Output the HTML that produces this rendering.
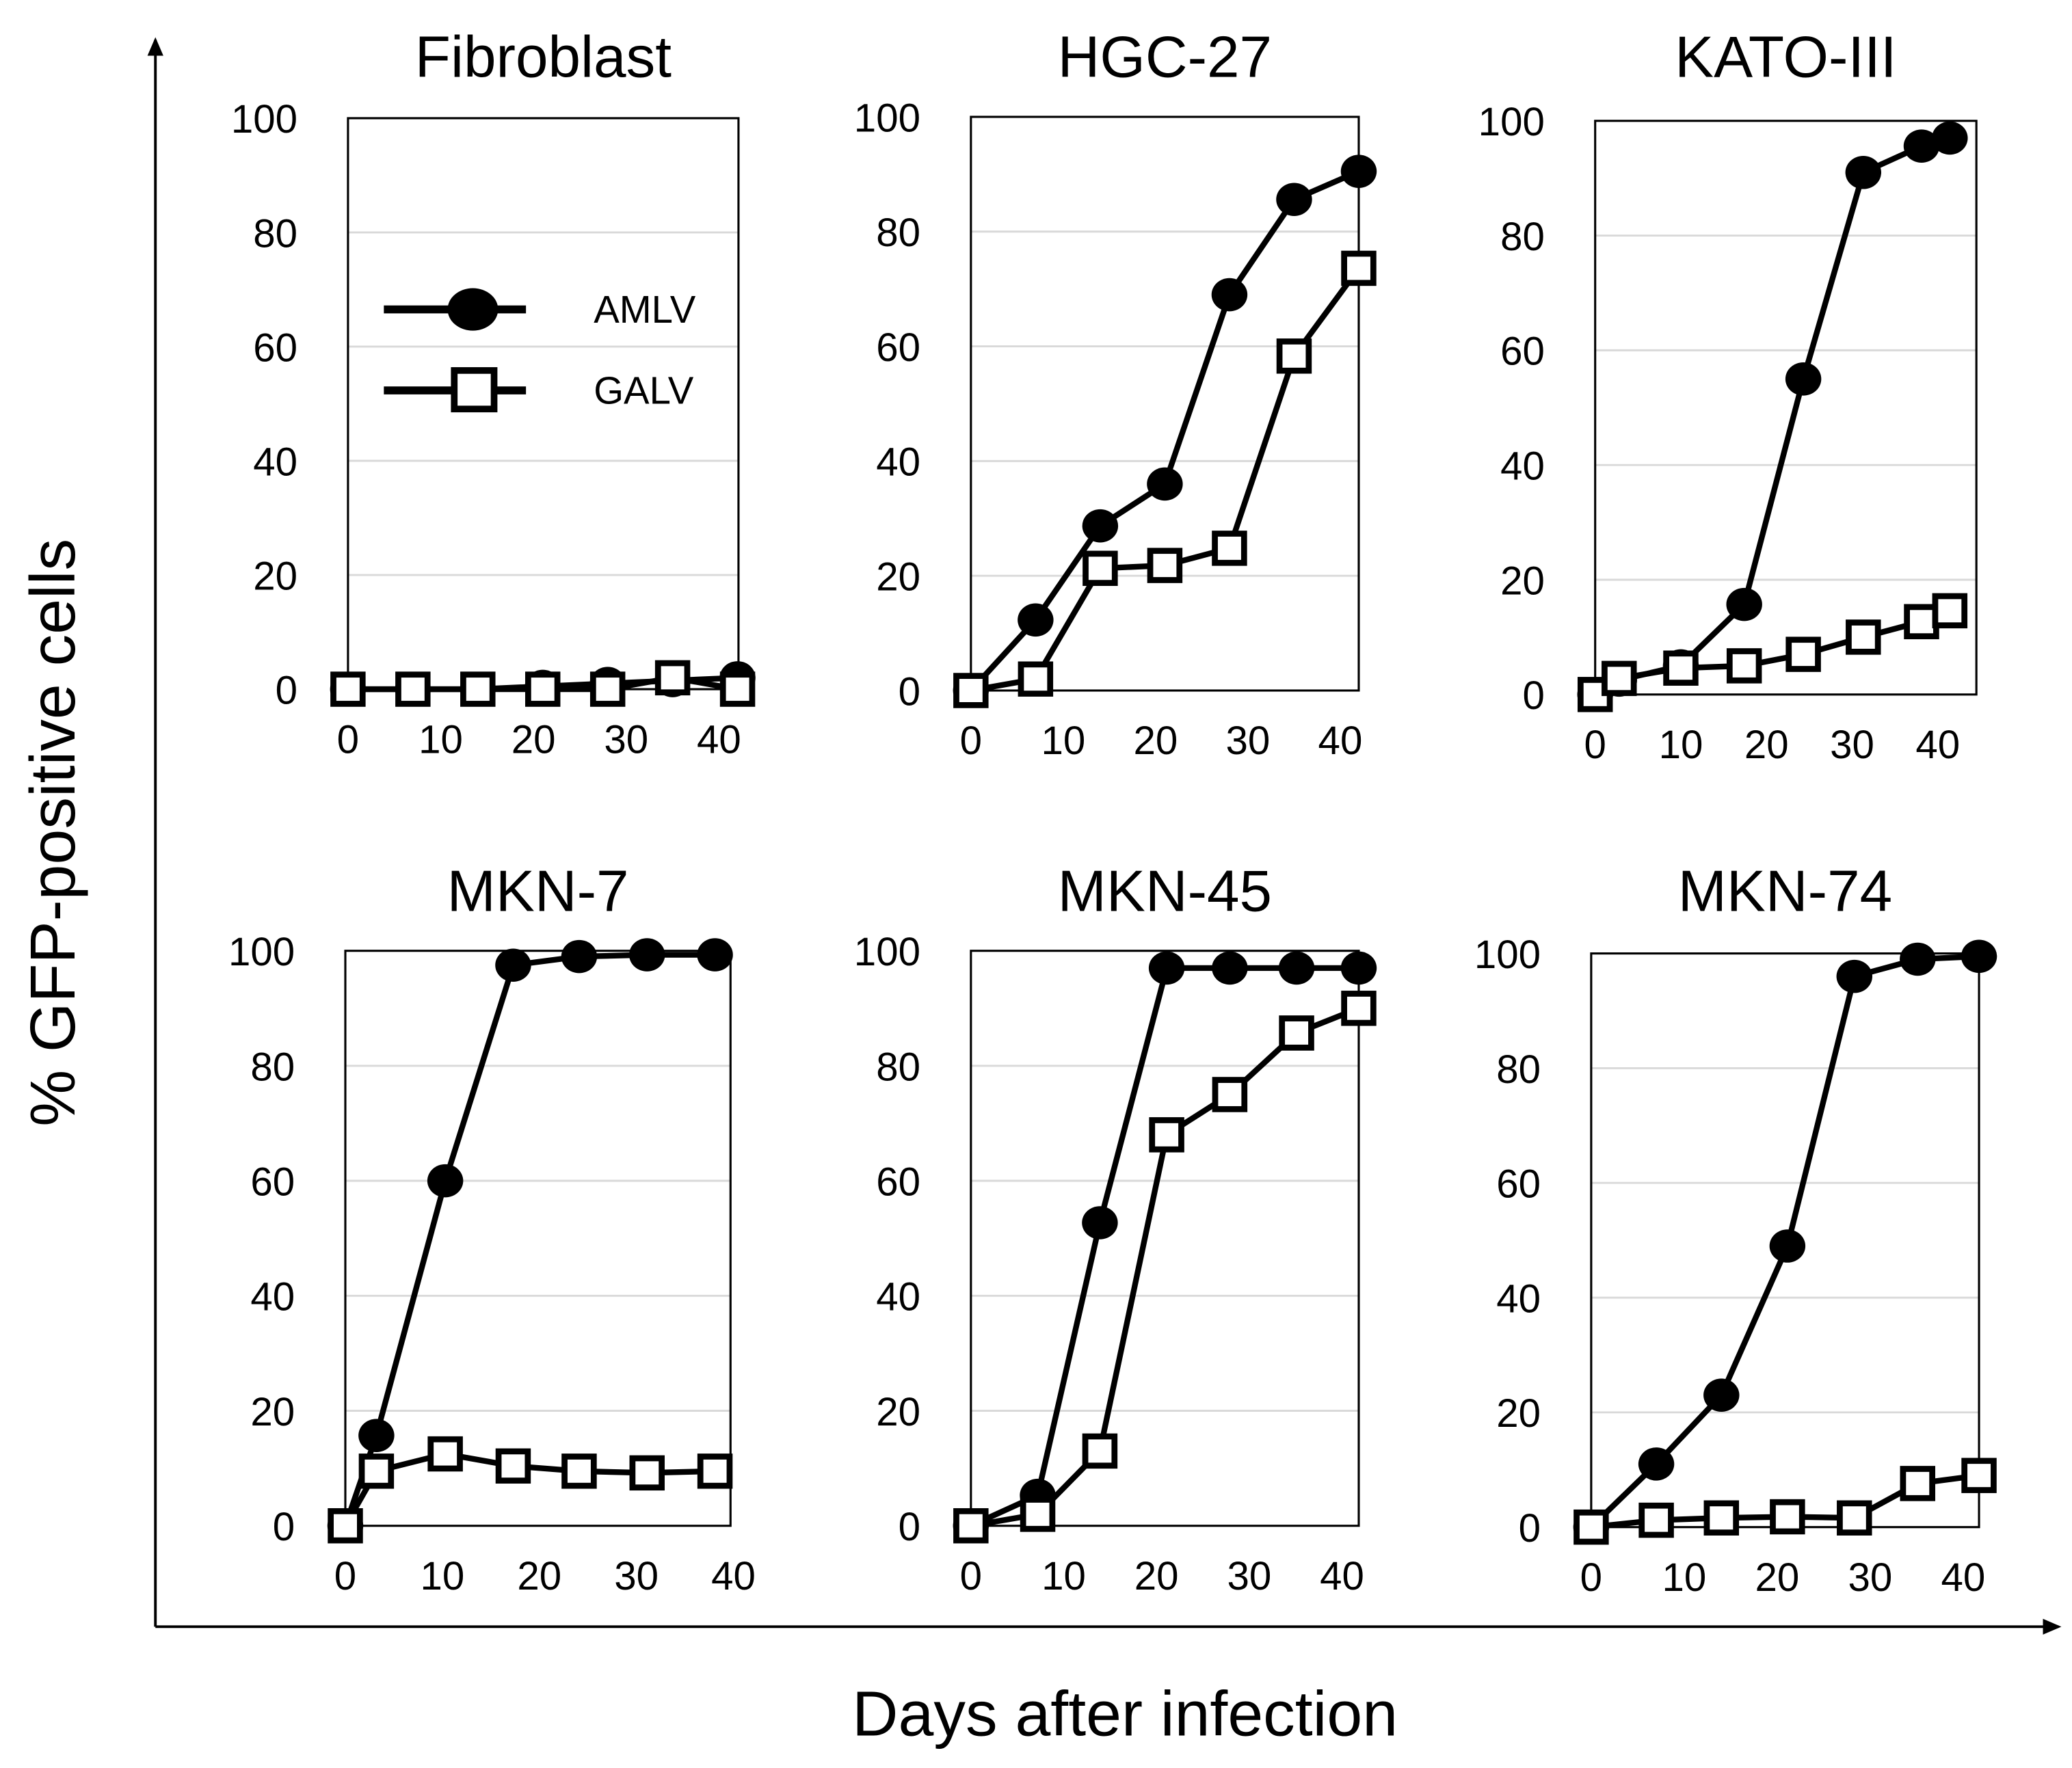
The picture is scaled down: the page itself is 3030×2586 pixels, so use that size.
<!DOCTYPE html>
<html><head><meta charset="utf-8"><style>
html,body{margin:0;padding:0;background:#fff;}
svg{display:block;font-family:"Liberation Sans",Arial,sans-serif;}
</style></head><body>
<svg id="chart" width="3030" height="2586" viewBox="0 0 1560 1331.4" xmlns="http://www.w3.org/2000/svg">
<defs><marker id="arr" markerWidth="14" markerHeight="12" refX="12" refY="6" orient="auto" markerUnits="userSpaceOnUse"><path d="M0,0 L14,6 L0,12 z" fill="#000"/></marker></defs>
<line x1="117" y1="1225" x2="117" y2="30" stroke="#000" stroke-width="2" marker-end="url(#arr)"/>
<line x1="117" y1="1225" x2="1550" y2="1225" stroke="#000" stroke-width="2" marker-end="url(#arr)"/>
<text transform="translate(56,627) rotate(-90)" text-anchor="middle" font-size="48">% GFP-positive cells</text>
<text x="847" y="1307" text-anchor="middle" font-size="48">Days after infection</text>
<g id="panels"></g>
</svg>
<script>
const yTicks = [0, 20, 40, 60, 80, 100];
const xTicks = [0, 10, 20, 30, 40];
const seriesNames = ["AMLV", "GALV"];
const fibroDays = [0, 7, 14, 21, 28, 35, 42];
const fibroAMLV = [0, 0, 0, 0.5, 1, 1.5, 2];
const fibroGALV = [0, 0, 0, 0, 0, 2, 0];
const hgcDays = [0, 7, 14, 21, 28, 35, 42];
const hgcAMLV = [0, 12.3, 28.7, 36, 69, 85.6, 90.5];
const hgcGALV = [0, 2, 21.3, 21.8, 24.8, 58.3, 73.6];
const katoDays = [0, 2.8, 10, 17.4, 24.3, 31.3, 38.1, 41.4];
const katoAMLV = [0, 2.5, 5, 15.7, 55, 91, 95.6, 97];
const katoGALV = [0, 2.8, 4.6, 5, 7, 10, 12.7, 14.6];
const mkn7Days = [0, 3.2, 10.3, 17.3, 24.1, 31.1, 38.1];
const mkn7AMLV = [0, 15.7, 60, 97.5, 99, 99.3, 99.3];
const mkn7GALV = [0, 9.5, 12.5, 10.4, 9.5, 9.2, 9.5];
const mkn45Days = [0, 7.2, 13.9, 21.1, 27.9, 35.1, 41.8];
const mkn45AMLV = [0, 5.3, 52.7, 97, 97, 97, 97];
const mkn45GALV = [0, 2, 13, 68, 75, 85.7, 90];
const mkn74Days = [0, 7, 14, 21.1, 28.3, 35.1, 41.7];
const mkn74AMLV = [0, 11, 23, 49, 96, 99, 99.5];
const mkn74GALV = [0, 1.2, 1.6, 1.8, 1.6, 7.6, 9];
const panelTitles = ["Fibroblast", "HGC-27", "KATO-III", "MKN-7", "MKN-45", "MKN-74"];

const NS = "http://www.w3.org/2000/svg";
const root = document.getElementById("panels");
function mk(tag, attrs, parent) {
  const e = document.createElementNS(NS, tag);
  for (const k in attrs) e.setAttribute(k, attrs[k]);
  (parent || root).appendChild(e);
  return e;
}
const layout = [
  {x0:262,x1:556,yt:89,yb:519,xmax:42.1,ty:58},
  {x0:731,x1:1023,yt:88,yb:520,xmax:42,ty:58},
  {x0:1201,x1:1488,yt:91,yb:523,xmax:44.5,ty:58},
  {x0:260,x1:550,yt:716,yb:1149,xmax:39.7,ty:686},
  {x0:731,x1:1023,yt:716,yb:1149,xmax:41.8,ty:686},
  {x0:1198,x1:1490,yt:718,yb:1150,xmax:41.7,ty:686}
];
const data = [
  [fibroDays, fibroAMLV, fibroGALV],
  [hgcDays, hgcAMLV, hgcGALV],
  [katoDays, katoAMLV, katoGALV],
  [mkn7Days, mkn7AMLV, mkn7GALV],
  [mkn45Days, mkn45AMLV, mkn45GALV],
  [mkn74Days, mkn74AMLV, mkn74GALV]
];
layout.forEach((L, i) => {
  const g = mk("g", {});
  
  
  const xs = d => L.x0 + d / L.xmax * (L.x1 - L.x0);
  const ys = v => L.yb - v / 100 * (L.yb - L.yt);
  const t = mk("text", {x:(L.x0+L.x1)/2, y:L.ty, "text-anchor":"middle", "font-size":44}, g);
  t.textContent = panelTitles[i];
  
  
  yTicks.forEach(v => {
    if (v > 0 && v < 100) {
      const gl = mk("line", {x1:L.x0, x2:L.x1, y1:ys(v), y2:ys(v), stroke:"#d9d9d9", "stroke-width":1.5}, g);
      
      
    }
    const tl = mk("text", {x:L.x0 - 38, y:ys(v) + 11, "text-anchor":"end", "font-size":30}, g);
    tl.textContent = v;
    
    
  });
  xTicks.forEach(v => {
    const tl = mk("text", {x:xs(v), y:L.yb + 48, "text-anchor":"middle", "font-size":30}, g);
    tl.textContent = v;
    
    
  });
  const box = mk("rect", {x:L.x0, y:L.yt, width:L.x1-L.x0, height:L.yb-L.yt, fill:"none", stroke:"#000", "stroke-width":1.6}, g);
  
  
  const [days, a, b] = data[i];
  [a, b].forEach((vals, si) => {
    const pts = days.map((d, k) => xs(d) + "," + ys(vals[k])).join(" ");
    const pl = mk("polyline", {points:pts, fill:"none", stroke:"#000", "stroke-width":4.3, "stroke-linejoin":"round"}, g);
    
    
  });
  [a, b].forEach((vals, si) => {
    days.forEach((d, k) => {
      let m;
      if (si === 0) m = mk("ellipse", {cx:xs(d), cy:ys(vals[k]), rx:13.5, ry:12.5, fill:"#000"}, g);
      else m = mk("rect", {x:xs(d)-11, y:ys(vals[k])-11, width:22, height:22, fill:"#fff", stroke:"#000", "stroke-width":4.5}, g);
      
      
    });
  });
});
const lg = mk("g", {});


const l1 = mk("line", {x1:289, x2:396, y1:233, y2:233, stroke:"#000", "stroke-width":6}, lg);


const c1 = mk("ellipse", {cx:356, cy:233, rx:19, ry:16, fill:"#000"}, lg);


const t1 = mk("text", {x:447, y:243, "font-size":29}, lg);
t1.textContent = "AMLV";


const l2 = mk("line", {x1:289, x2:396, y1:294, y2:294, stroke:"#000", "stroke-width":6}, lg);


const r2 = mk("rect", {x:342, y:279, width:30, height:29, fill:"#fff", stroke:"#000", "stroke-width":5}, lg);


const t2 = mk("text", {x:447, y:304, "font-size":29}, lg);
t2.textContent = "GALV";


</script>
</body></html>
